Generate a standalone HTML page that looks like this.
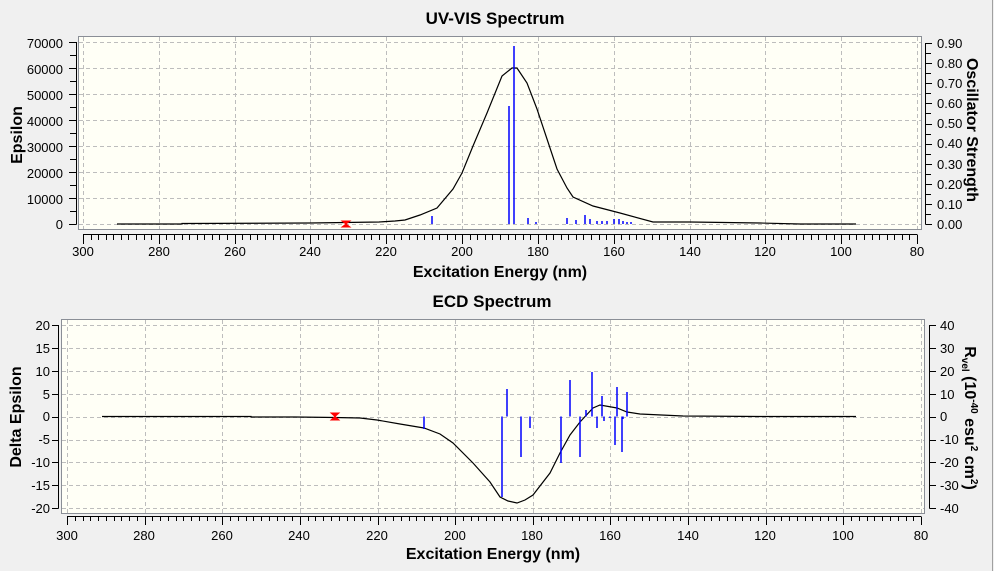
<!DOCTYPE html>
<html><head><meta charset="utf-8"><style>
html,body{margin:0;padding:0;background:#f0f0f0;}
svg{display:block;font-family:"Liberation Sans",Arial,sans-serif;}
.t{font-size:13px;fill:#000;}
.ax{font-size:16px;font-weight:bold;fill:#000;}
.ti{font-size:17px;font-weight:bold;fill:#000;}
</style></head><body>
<svg id="s" width="994" height="571" viewBox="0 0 994 571" xmlns="http://www.w3.org/2000/svg">
<rect width="994" height="571" fill="#f0f0f0"/>
<line x1="992.5" y1="0" x2="992.5" y2="571" stroke="#a0a0a0"/>
<rect x="78.5" y="36.5" width="843" height="193" fill="#fffff6" stroke="#8a8e96"/>
<rect x="61.5" y="319.5" width="863" height="194" fill="#fffff6" stroke="#8a8e96"/>
<g id="grid" stroke="#bdbdbd" stroke-dasharray="4,3" stroke-width="1"></g>
<g id="ticks" stroke="#000" stroke-width="1"></g>

<text class="ti" x="495" y="24" text-anchor="middle">UV-VIS Spectrum</text>
<text class="ax" x="500" y="277" text-anchor="middle">Excitation Energy (nm)</text>
<text class="ax" transform="translate(22,135) rotate(-90)" text-anchor="middle">Epsilon</text>
<text class="ax" transform="translate(967,130) rotate(90)" text-anchor="middle">Oscillator Strength</text>

<text class="ti" x="492" y="307" text-anchor="middle">ECD Spectrum</text>
<text class="ax" x="493" y="559" text-anchor="middle">Excitation Energy (nm)</text>
<text class="ax" transform="translate(21,417) rotate(-90)" text-anchor="middle">Delta Epsilon</text>
<text class="ax" transform="translate(965,418) rotate(90)" text-anchor="middle">R<tspan font-size="10" dy="3">vel</tspan><tspan dy="-3"> (10</tspan><tspan font-size="10" dy="-6">-40</tspan><tspan dy="6"> esu</tspan><tspan font-size="10" dy="-6">2</tspan><tspan dy="6"> cm</tspan><tspan font-size="10" dy="-6">2</tspan><tspan dy="6">)</tspan></text>

<g class="t" text-anchor="end">
<text x="63" y="48">70000</text><text x="63" y="74">60000</text><text x="63" y="100">50000</text><text x="63" y="126">40000</text><text x="63" y="152">30000</text><text x="63" y="178">20000</text><text x="63" y="204">10000</text><text x="63" y="229">0</text>
</g>
<g class="t">
<text x="937" y="48">0.90</text><text x="937" y="68">0.80</text><text x="937" y="88">0.70</text><text x="937" y="108">0.60</text><text x="937" y="128">0.50</text><text x="937" y="148">0.40</text><text x="937" y="169">0.30</text><text x="937" y="189">0.20</text><text x="937" y="209">0.10</text><text x="937" y="229">0.00</text>
</g>
<g class="t" text-anchor="middle">
<text x="83" y="256">300</text><text x="159" y="256">280</text><text x="235" y="256">260</text><text x="310" y="256">240</text><text x="386" y="256">220</text><text x="462" y="256">200</text><text x="538" y="256">180</text><text x="614" y="256">160</text><text x="690" y="256">140</text><text x="765" y="256">120</text><text x="841" y="256">100</text><text x="917" y="256">80</text>
</g>
<g class="t" text-anchor="end">
<text x="50" y="330">20</text><text x="50" y="353">15</text><text x="50" y="376">10</text><text x="50" y="399">5</text><text x="50" y="421">0</text><text x="50" y="444">-5</text><text x="50" y="467">-10</text><text x="50" y="490">-15</text><text x="50" y="513">-20</text>
</g>
<g class="t">
<text x="940" y="330">40</text><text x="940" y="353">30</text><text x="940" y="376">20</text><text x="940" y="399">10</text><text x="940" y="421">0</text><text x="940" y="444">-10</text><text x="940" y="467">-20</text><text x="940" y="490">-30</text><text x="940" y="513">-40</text>
</g>
<g class="t" text-anchor="middle">
<text x="67" y="540">300</text><text x="144" y="540">280</text><text x="222" y="540">260</text><text x="299" y="540">240</text><text x="377" y="540">220</text><text x="455" y="540">200</text><text x="532" y="540">180</text><text x="610" y="540">160</text><text x="688" y="540">140</text><text x="765" y="540">120</text><text x="843" y="540">100</text><text x="921" y="540">80</text>
</g>

<polyline fill="none" stroke="#000" stroke-width="1.2" points="117,224 182,224 182,223.5 310,223 379,222 395,221 405,220 420,215 437,208 453,189 462,173 473,146 487,113 502,76 512,68 517,68 527,83 537,109 547,139 557,169 567,188 573,197 593,206 620,213 653,222 690,222 760,223 800,224 856,224"/>
<g stroke="#0000ff" stroke-width="1.5">
<line x1="432" y1="224" x2="432" y2="216"/><line x1="509" y1="224" x2="509" y2="106"/><line x1="514" y1="224" x2="514" y2="46"/><line x1="528" y1="224" x2="528" y2="218"/><line x1="536" y1="224" x2="536" y2="222"/><line x1="567" y1="224" x2="567" y2="218"/><line x1="576" y1="224" x2="576" y2="220"/><line x1="585" y1="224" x2="585" y2="215"/><line x1="590" y1="224" x2="590" y2="219"/><line x1="597" y1="224" x2="597" y2="221"/><line x1="602" y1="224" x2="602" y2="221"/><line x1="607" y1="224" x2="607" y2="221"/><line x1="614" y1="224" x2="614" y2="219"/><line x1="619" y1="224" x2="619" y2="219"/><line x1="623" y1="224" x2="623" y2="221"/><line x1="627" y1="224" x2="627" y2="222"/><line x1="631" y1="224" x2="631" y2="222"/>
</g>
<path d="M342,221 h8 l-8,6 h8 z" fill="#ff0000" stroke="#ff0000"/>

<polyline fill="none" stroke="#000" stroke-width="1.2" points="102,416.5 251,416.5 251,417 295,417 335,417.5 360,418 377,420 400,424 424,428 440,434 453,443 473,463 490,482 500,497 508,501 517,503 525,500 533,495 550,473 560,453 570,435 580,422 593,408 600,405 617,408 627,412 640,414 683,416 760,416.5 856,416.5"/>
<g stroke="#0000ff" stroke-width="1.5">
<line x1="424" y1="416.5" x2="424" y2="429"/><line x1="502" y1="416.5" x2="502" y2="497"/><line x1="507" y1="416.5" x2="507" y2="389"/><line x1="521" y1="416.5" x2="521" y2="457"/><line x1="530" y1="416.5" x2="530" y2="428"/><line x1="561" y1="416.5" x2="561" y2="463"/><line x1="570" y1="416.5" x2="570" y2="380"/><line x1="580" y1="416.5" x2="580" y2="457"/><line x1="586" y1="416.5" x2="586" y2="410"/><line x1="592" y1="416.5" x2="592" y2="372"/><line x1="597" y1="416.5" x2="597" y2="428"/><line x1="602" y1="416.5" x2="602" y2="396"/><line x1="604" y1="416.5" x2="604" y2="421"/><line x1="610" y1="416.5" x2="610" y2="418"/><line x1="615" y1="416.5" x2="615" y2="445"/><line x1="617" y1="416.5" x2="617" y2="387"/><line x1="622" y1="416.5" x2="622" y2="452"/><line x1="623" y1="416.5" x2="623" y2="419"/><line x1="627" y1="416.5" x2="627" y2="392"/>
</g>
<path d="M331,413 h8 l-8,7 h8 z" fill="#ff0000" stroke="#ff0000"/>
</svg>
<script>
(function(){
var NS="http://www.w3.org/2000/svg",g=document.getElementById('grid'),t=document.getElementById('ticks');
function L(p,x1,y1,x2,y2){var l=document.createElementNS(NS,'line');l.setAttribute('x1',x1);l.setAttribute('y1',y1);l.setAttribute('x2',x2);l.setAttribute('y2',y2);p.appendChild(l);}
var i,x,y;
for(i=0;i<=11;i++){x=Math.round(83+i*75.82)+.5;L(g,x,37,x,229);}
for(i=0;i<=7;i++){y=Math.round(224-i*26)+.5;L(g,79,y,921,y);}
L(t,76.5,42,76.5,224.5);L(t,925.5,43,925.5,224.5);
for(i=0;i<=14;i++){y=Math.round(224-i*13)+.5;L(t,i%2?70:69,y,76.5,y);}
for(i=0;i<=18;i++){y=Math.round(224-i*10.05)+.5;L(t,925.5,y,i%2?931:932,y);}
L(t,83,234.5,917,234.5);
for(i=0;i<=110;i++){x=Math.round(83+i*7.582)+.5;L(t,x,234.5,x,i%10?240:244);}
for(i=0;i<=11;i++){x=Math.round(67+i*77.64)+.5;L(g,x,320,x,513);}
for(i=0;i<=8;i++){y=Math.round(325+i*22.9)+.5;L(g,62,y,924,y);}
L(t,58.5,325,58.5,508.5);L(t,929.5,325,929.5,508.5);
for(i=0;i<=8;i++){y=Math.round(325+i*22.9)+.5;L(t,52,y,58.5,y);L(t,929.5,y,936,y);}
L(t,67,516.5,921,516.5);
for(i=0;i<=110;i++){x=Math.round(67+i*7.764)+.5;L(t,x,516.5,x,i%10?521:525);}
})();
</script>
</body></html>
